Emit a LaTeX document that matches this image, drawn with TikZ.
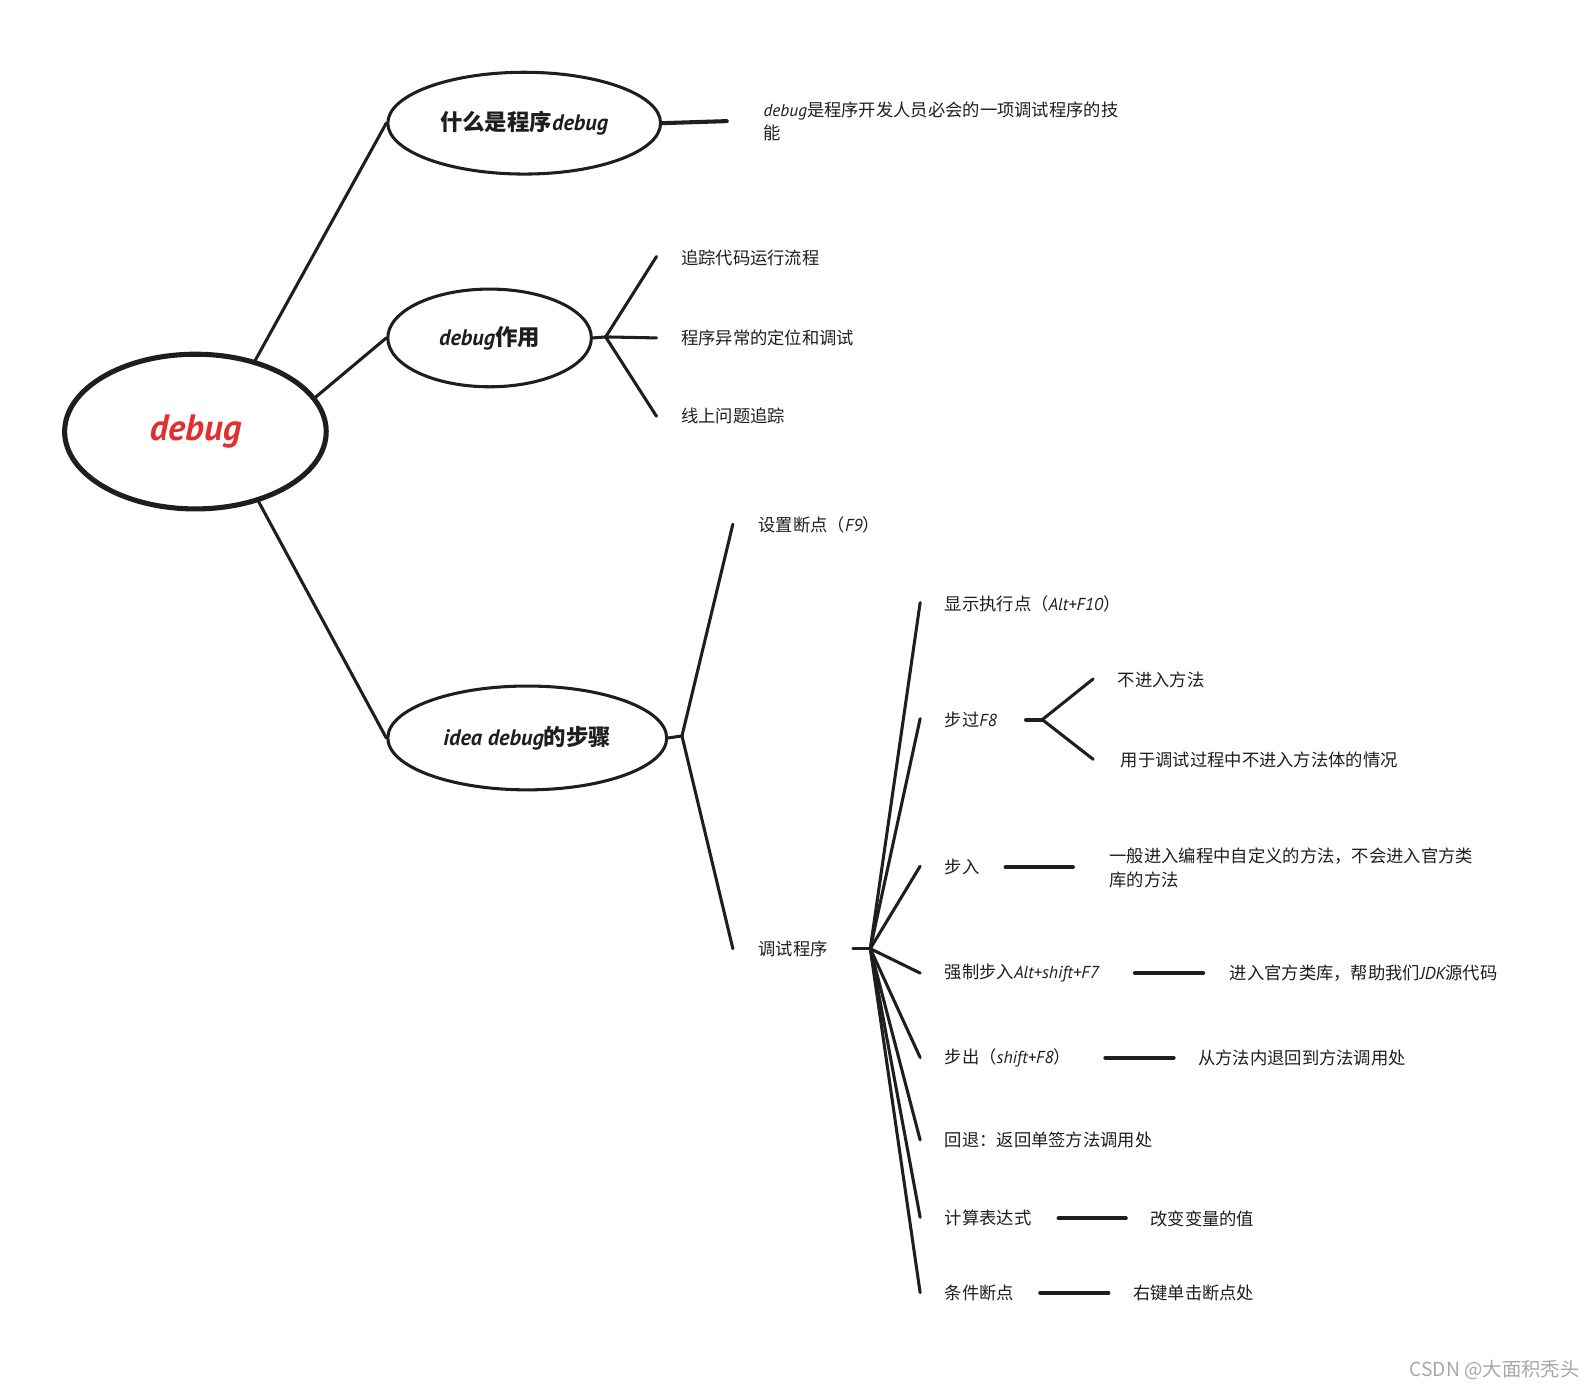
\documentclass[tikz,border=0pt]{standalone}
\usepackage{fontspec}
\usetikzlibrary{shapes.geometric}
\newfontfamily\cjk{Noto Sans CJK SC}
\newfontfamily\lat{PT Sans}
\newcommand\myit[1]{{\lat\itshape #1}}
\definecolor{ink}{HTML}{1E1E1E}
\definecolor{redtxt}{HTML}{E03131}
\definecolor{wm}{HTML}{A8A8A8}
\tikzset{
  txt/.style={anchor=west, inner sep=0pt, align=left, text=ink, font=\cjk\fontsize{17}{23}\selectfont},
  bub/.style={ellipse, draw=ink, line width=3pt, inner sep=0pt, text=ink, font=\cjk\bfseries\fontsize{22}{26}\selectfont},
  ln/.style={draw=ink, line width=3pt, line cap=round},
  dashln/.style={draw=ink, line width=4pt, line cap=round}
}
\begin{document}
\begin{tikzpicture}[x=1pt,y=-1pt]
\useasboundingbox[fill=white] (0,0) rectangle (1568,1364);

% central and second-level bubbles
\node[bub, line width=5pt, minimum width=257pt, minimum height=152pt, text=redtxt,
      font=\lat\bfseries\itshape\fontsize{36}{40}\selectfont] (main) at (192,424) {debug};
\node[bub, minimum width=268pt, minimum height=100pt] (e1) at (515,121) {什么是程序\myit{debug}};
\node[bub, minimum width=200pt, minimum height=96pt] (e2) at (481,332) {\myit{debug}作用};
\node[bub, minimum width=274pt, minimum height=102pt] (e3) at (518,725) {\myit{idea debug}的步骤};

\draw[ln] (main.50) -- (e1.west);
\draw[ln] (main.16) -- (e2.west);
\draw[ln] (main.-48) -- (e3.west);

% branch 1
\coordinate (c1) at (714,119);
\draw[dashln] (e1.east) -- (c1);
\node[txt] (t1) at (750,119.5) {\myit{debug}是程序开发人员必会的一项调试程序的技\\能};

% branch 2
\coordinate (j2) at (595,331);
\coordinate (b21) at (645,252);
\coordinate (b22) at (645,332);
\coordinate (b23) at (645,409);
\draw[ln] (e2.east) -- (j2);
\draw[ln] (j2) -- (b21);
\draw[ln] (j2) -- (b22);
\draw[ln] (j2) -- (b23);
\node[txt] (t21) at (669,253) {追踪代码运行流程};
\node[txt] (t22) at (669,332) {程序异常的定位和调试};
\node[txt] (t23) at (669,409) {线上问题追踪};

% branch 3
\coordinate (j3) at (670,723);
\coordinate (b31) at (720,515);
\coordinate (b32) at (720,932);
\draw[ln] (e3.east) -- (j3);
\draw[ln] (j3) -- (b31);
\draw[ln] (j3) -- (b32);
\node[txt] (s1) at (745,516) {设置断点（\myit{F9}）};
\node[txt] (s2) at (745,932) {调试程序};

% debugging sub-branches
\coordinate (j4a) at (838,932);
\coordinate (j4) at (855,932);
\draw[ln] (j4a) -- (j4);
\foreach \i/\y in {1/592,2/706,3/851,4/956,5/1039,6/1120,7/1196,8/1270}{
  \coordinate (k\i) at (904,\y);
  \draw[ln] (j4) -- (k\i);
}
\node[txt] (u1) at (928,593) {显示执行点（\myit{Alt+F10}）};
\node[txt] (u2) at (928,707) {步过\myit{F8}};
\node[txt] (u3) at (928,852) {步入};
\node[txt] (u4) at (928,956) {强制步入\myit{Alt+shift+F7}};
\node[txt] (u5) at (928,1039) {步出（\myit{shift+F8}）};
\node[txt] (u6) at (928,1120) {回退：返回单签方法调用处};
\node[txt] (u7) at (928,1197) {计算表达式};
\node[txt] (u8) at (928,1270) {条件断点};

% step over
\coordinate (m2a) at (1008,707);
\coordinate (m2) at (1024,707);
\coordinate (n21) at (1074,667);
\coordinate (n22) at (1074,746);
\draw[dashln] (m2a) -- (m2);
\draw[ln] (m2) -- (n21);
\draw[ln] (m2) -- (n22);
\node[txt] (v21) at (1098,668) {不进入方法};
\node[txt] (v22) at (1101,747) {用于调试过程中不进入方法体的情况};

% step into
\coordinate (d3a) at (988,852);
\coordinate (d3b) at (1054,852);
\draw[dashln] (d3a) -- (d3b);
\node[txt] (v3) at (1090,852.5) {一般进入编程中自定义的方法，不会进入官方类\\库的方法};

% force step into
\coordinate (d4a) at (1115,956);
\coordinate (d4b) at (1182,956);
\draw[dashln] (d4a) -- (d4b);
\node[txt] (v4) at (1208,956) {进入官方类库，帮助我们\myit{JDK}源代码};

% step out
\coordinate (d5a) at (1086,1039);
\coordinate (d5b) at (1153,1039);
\draw[dashln] (d5a) -- (d5b);
\node[txt] (v5) at (1177,1039) {从方法内退回到方法调用处};

% evaluate
\coordinate (d7a) at (1040,1197);
\coordinate (d7b) at (1106,1197);
\draw[dashln] (d7a) -- (d7b);
\node[txt] (v7) at (1130,1197) {改变变量的值};

% conditional
\coordinate (d8a) at (1022,1270);
\coordinate (d8b) at (1089,1270);
\draw[dashln] (d8a) -- (d8b);
\node[txt] (v8) at (1113,1270) {右键单击断点处};

% watermark
\node[anchor=east, inner sep=0pt, text=wm, font=\cjk\fontsize{19}{22}\selectfont] (wmk) at (1552,1346) {CSDN @大面积秃头};
\end{tikzpicture}
\end{document}
